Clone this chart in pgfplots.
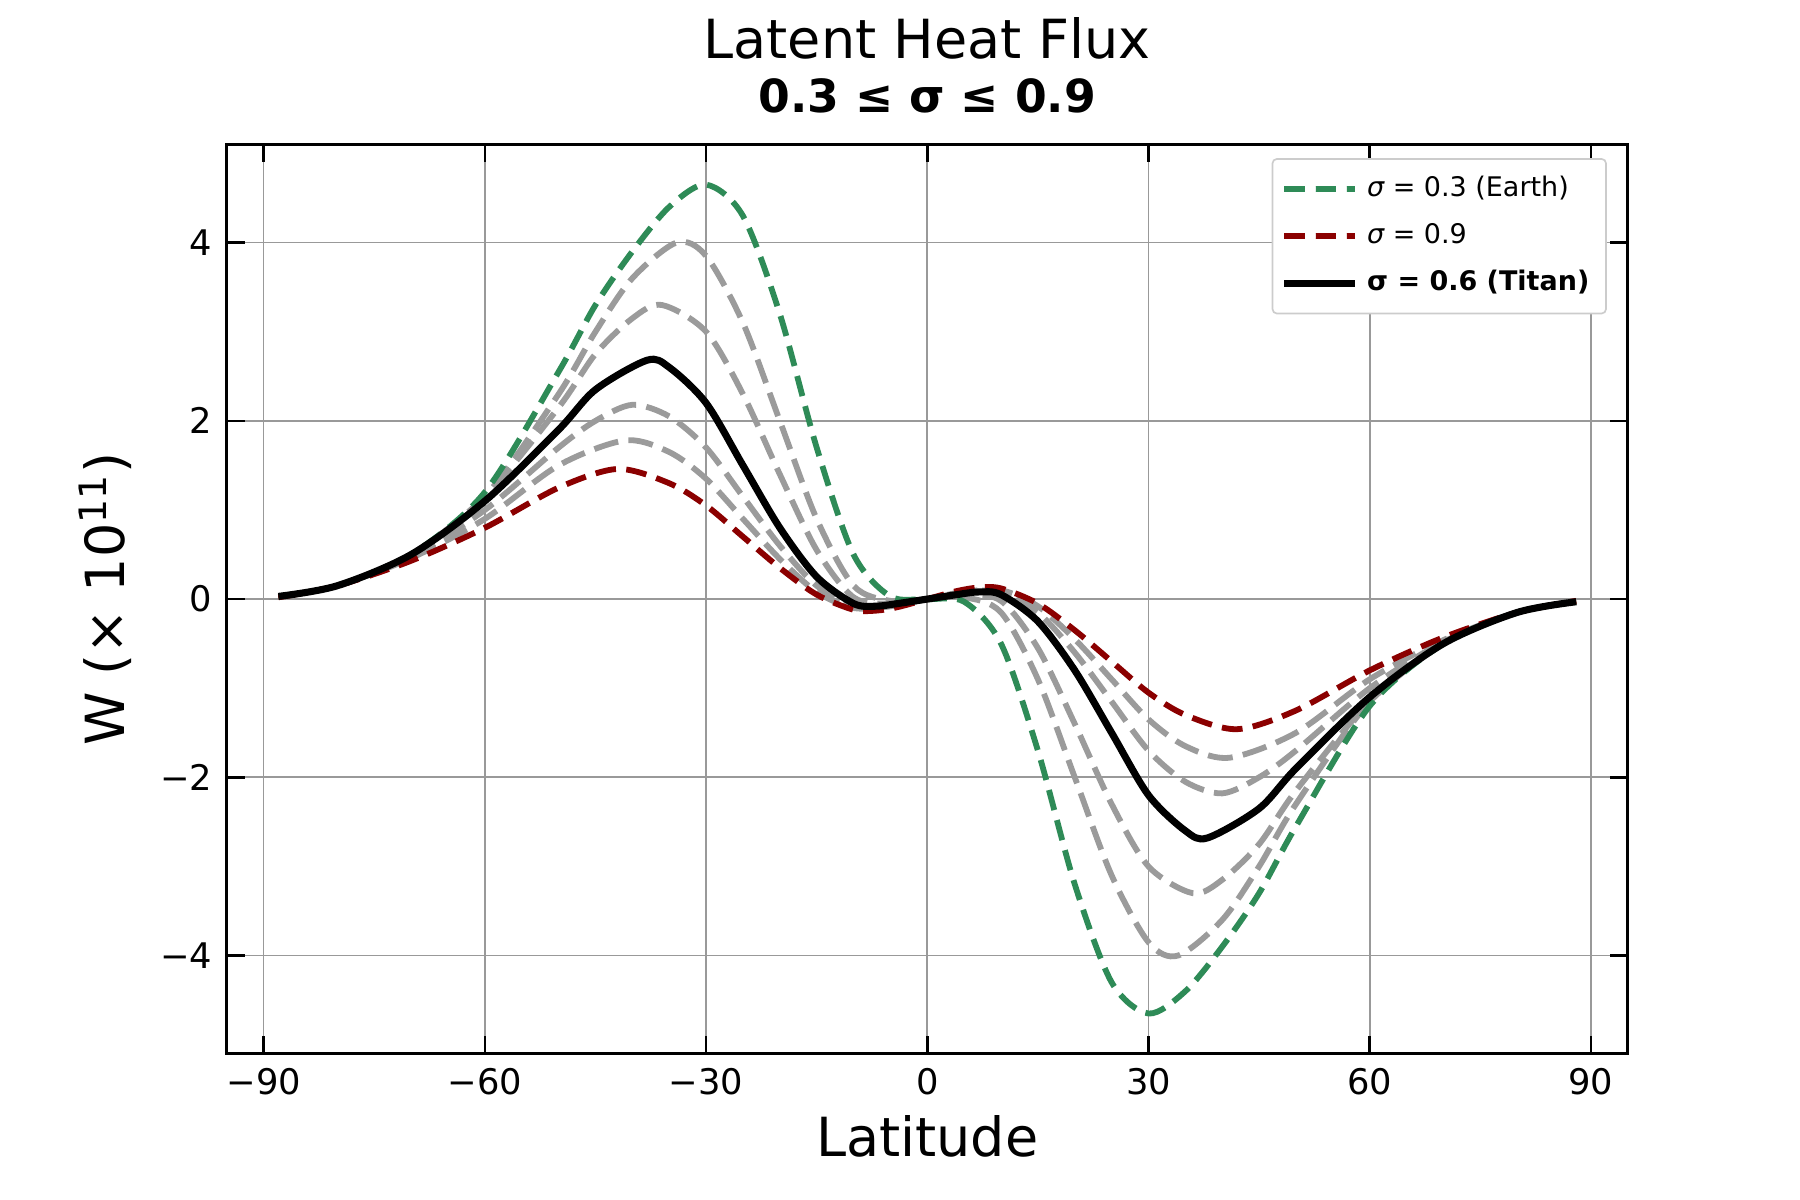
\documentclass[border=0pt]{standalone}
\usepackage{pgfplots}
\pgfplotsset{compat=1.18}
\usepackage{fontspec}
\setmainfont{DejaVu Sans}
\definecolor{sgreen}{RGB}{46,139,87}
\definecolor{dred}{RGB}{139,0,0}
\definecolor{lgray}{RGB}{155,155,155}
\begin{document}
\begin{tikzpicture}
\useasboundingbox (-0.756in,-0.488in) rectangle (5.244in,3.512in);
\begin{axis}[
  scale only axis, width=4.67in, height=3.03in,
  xmin=-95, xmax=95, ymin=-5.1, ymax=5.1,
  xtick={-90,-60,-30,0,30,60,90},
  xticklabels={−90,−60,−30,0,30,60,90},
  ytick={-4,-2,0,2,4},
  yticklabels={−4,−2,0,2,4},
  ticklabel style={font=\fontsize{8.5}{10}\selectfont},
  grid=major, grid style={gray!80, line width=0.4pt},
  axis line style={line width=0.8pt},
  tick style={black, line width=0.6pt},
  xlabel={Latitude}, ylabel={W (× 10\textsuperscript{11})},
  label style={font=\fontsize{13}{15}\selectfont},
  xlabel style={yshift=2pt},
  title={{\fontsize{13}{15}\selectfont Latent Heat Flux}\\[1pt]{\fontsize{11}{13}\selectfont\bfseries 0.3 ≤ σ ≤ 0.9}},
  title style={align=center, yshift=-2pt},
  legend style={at={(0.985,0.985)}, anchor=north east, font=\fontsize{6.5}{8}\selectfont, draw=gray!40, rounded corners=1pt, inner sep=2pt, row sep=1pt},
  legend cell align=left,
  every axis plot/.append style={smooth, line width=1.4pt, no marks},
]
% grays (not in legend)
\addplot[lgray, dash pattern=on 6pt off 2.5pt, forget plot] coordinates {(-88,0.03)(-80,0.15)(-70,0.5)(-60,1.15)(-50,2.3)(-45,3.0)(-40,3.6)(-34,4.0)(-30,3.85)(-25,3.1)(-20,2.0)(-15,0.9)(-10,0.15)(-5,-0.02)(0,0)(5,0.02)(10,-0.15)(15,-0.9)(20,-2.0)(25,-3.1)(30,-3.85)(34,-4.0)(40,-3.6)(45,-3.0)(50,-2.3)(60,-1.15)(70,-0.5)(80,-0.15)(88,-0.03)};
\addplot[lgray, dash pattern=on 6pt off 2.5pt, forget plot] coordinates {(-88,0.03)(-80,0.15)(-70,0.5)(-60,1.15)(-50,2.15)(-45,2.75)(-40,3.15)(-36,3.3)(-30,3.0)(-25,2.3)(-20,1.4)(-15,0.55)(-10,0.02)(-5,-0.05)(0,0)(5,0.05)(10,-0.02)(15,-0.55)(20,-1.4)(25,-2.3)(30,-3.0)(36,-3.3)(40,-3.15)(45,-2.75)(50,-2.15)(60,-1.15)(70,-0.5)(80,-0.15)(88,-0.03)};
\addplot[lgray, dash pattern=on 6pt off 2.5pt, forget plot] coordinates {(-88,0.03)(-80,0.15)(-70,0.48)(-60,1.0)(-50,1.7)(-45,2.0)(-40,2.18)(-35,2.05)(-30,1.7)(-25,1.15)(-20,0.6)(-15,0.15)(-10,-0.08)(-5,-0.08)(0,0)(5,0.08)(10,0.08)(15,-0.15)(20,-0.6)(25,-1.15)(30,-1.7)(35,-2.05)(40,-2.18)(45,-2.0)(50,-1.7)(60,-1.0)(70,-0.48)(80,-0.15)(88,-0.03)};
\addplot[lgray, dash pattern=on 6pt off 2.5pt, forget plot] coordinates {(-88,0.03)(-80,0.15)(-70,0.46)(-60,0.9)(-50,1.5)(-41,1.78)(-35,1.65)(-30,1.35)(-25,0.9)(-20,0.45)(-15,0.08)(-10,-0.1)(-5,-0.08)(0,0)(5,0.08)(10,0.1)(15,-0.08)(20,-0.45)(25,-0.9)(30,-1.35)(35,-1.65)(41,-1.78)(50,-1.5)(60,-0.9)(70,-0.46)(80,-0.15)(88,-0.03)};
% green
\addplot[sgreen, dash pattern=on 5pt off 2.5pt] coordinates {(-88,0.03)(-80,0.15)(-70,0.5)(-60,1.2)(-50,2.55)(-45,3.3)(-40,3.9)(-35,4.4)(-30,4.65)(-25,4.3)(-20,3.2)(-15,1.7)(-10,0.5)(-5,0.03)(0,0)(5,-0.03)(10,-0.5)(15,-1.7)(20,-3.2)(25,-4.3)(30,-4.65)(35,-4.4)(40,-3.9)(45,-3.3)(50,-2.55)(60,-1.2)(70,-0.5)(80,-0.15)(88,-0.03)};
\addlegendentry{{\itshape σ} = 0.3 (Earth)}
% red
\addplot[dred, dash pattern=on 5pt off 2.5pt] coordinates {(-88,0.02)(-80,0.15)(-70,0.43)(-60,0.8)(-50,1.25)(-42,1.46)(-35,1.3)(-30,1.05)(-25,0.7)(-20,0.35)(-15,0.05)(-10,-0.12)(-7,-0.13)(-4,-0.09)(0,0)(4,0.09)(7,0.13)(10,0.12)(15,-0.05)(20,-0.35)(25,-0.7)(30,-1.05)(35,-1.3)(42,-1.46)(50,-1.25)(60,-0.8)(70,-0.43)(80,-0.15)(88,-0.02)};
\addlegendentry{{\itshape σ} = 0.9}
% black
\addplot[black, solid, line width=1.7pt] coordinates {(-88,0.03)(-80,0.15)(-70,0.5)(-60,1.1)(-50,1.9)(-45,2.35)(-38,2.68)(-35,2.6)(-30,2.2)(-25,1.5)(-20,0.8)(-15,0.25)(-10,-0.05)(-7,-0.08)(-4,-0.05)(0,0)(4,0.05)(7,0.08)(10,0.05)(15,-0.25)(20,-0.8)(25,-1.5)(30,-2.2)(35,-2.6)(38,-2.68)(45,-2.35)(50,-1.9)(60,-1.1)(70,-0.5)(80,-0.15)(88,-0.03)};
\addlegendentry{\textbf{σ = 0.6 (Titan)}}
\end{axis}
\end{tikzpicture}
\end{document}
